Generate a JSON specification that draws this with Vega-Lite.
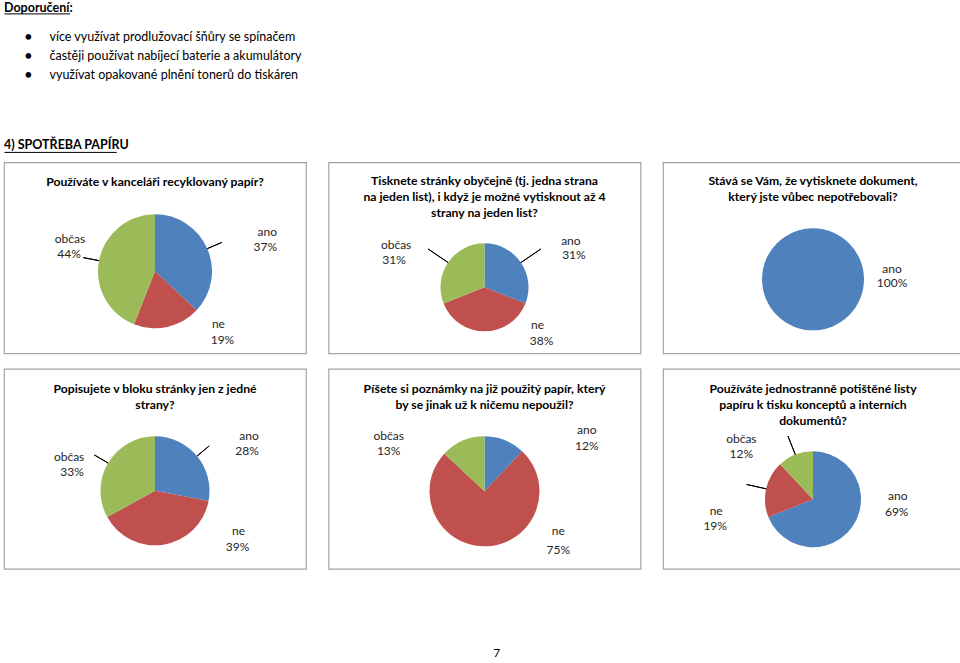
{
  "$schema": "https://vega.github.io/schema/vega-lite/v6.json",
  "background": "white",
  "padding": {"left": 3, "top": 2, "right": 0, "bottom": 0},
  "config": {
    "font": "Lato",
    "view": {"stroke": null},
    "title": {"font": "Lato", "fontSize": 12.2, "fontWeight": "bold", "color": "#000000", "lineHeight": 16, "anchor": "middle"},
    "text": {"font": "Lato", "fontSize": 12, "color": "#262626"},
    "arc": {"stroke": null}
  },
  "spacing": 9.3,
  "vconcat": [
    {
      "spacing": 53.3,
      "vconcat": [
        {
          "spacing": 12.7,
          "vconcat": [
            {
              "width": 65.6, "height": 10.4,
              "data": {"values": [{"heading": "Doporučení:"}]},
              "mark": {"type": "text", "align": "left", "baseline": "middle", "fontWeight": "bold", "fontSize": 12.5, "color": "#000000"},
              "encoding": {
                "text": {"field": "heading"},
                "x": {"field": "heading", "type": "nominal", "bandPosition": 0, "scale": {"type": "band", "paddingInner": 0, "paddingOuter": 0},
                      "axis": {"title": null, "labels": false, "ticks": false, "domain": true, "domainColor": "#000000", "domainWidth": 1, "grid": false}}
              }
            },
            {
              "spacing": 16.5,
              "hconcat": [
                {
                  "width": 28.8, "height": 56.25,
                  "data": {"values": [
                    {"item": "více využívat prodlužovací šňůry se spínačem"},
                    {"item": "častěji používat nabíjecí baterie a akumulátory"},
                    {"item": "využívat opakované plnění tonerů do tiskáren"}
                  ]},
                  "mark": {"type": "text", "align": "right", "baseline": "middle", "fontSize": 15, "color": "#000000"},
                  "encoding": {
                    "text": {"value": "•"},
                    "y": {"field": "item", "type": "nominal", "sort": null, "axis": null},
                    "x": {"datum": "bullet", "type": "nominal", "bandPosition": 1, "scale": {"type": "band", "paddingInner": 0, "paddingOuter": 0}, "axis": null}
                  }
                },
                {
                  "width": 260, "height": 56.25,
                  "data": {"values": [
                    {"item": "více využívat prodlužovací šňůry se spínačem"},
                    {"item": "častěji používat nabíjecí baterie a akumulátory"},
                    {"item": "využívat opakované plnění tonerů do tiskáren"}
                  ]},
                  "mark": {"type": "text", "align": "left", "baseline": "middle", "fontSize": 12.5, "color": "#000000"},
                  "encoding": {
                    "text": {"field": "item"},
                    "y": {"field": "item", "type": "nominal", "sort": null, "axis": null},
                    "x": {"datum": "text", "type": "nominal", "bandPosition": 0, "scale": {"type": "band", "paddingInner": 0, "paddingOuter": 0}, "axis": null}
                  }
                }
              ]
            }
          ]
        },
        {
          "width": 112.3, "height": 14.6,
          "data": {"values": [{"heading": "4) SPOTŘEBA PAPÍRU"}]},
          "mark": {"type": "text", "align": "left", "baseline": "middle", "fontWeight": "bold", "fontSize": 12.5, "color": "#000000"},
          "encoding": {
            "text": {"field": "heading"},
            "x": {"field": "heading", "type": "nominal", "bandPosition": 0, "scale": {"type": "band", "paddingInner": 0, "paddingOuter": 0},
                  "axis": {"title": null, "labels": false, "ticks": false, "domain": true, "domainColor": "#000000", "domainWidth": 1, "grid": false}}
          }
        }
      ]
    },
    {
      "spacing": 11.5,
      "vconcat": [
        {
          "spacing": 20.5,
          "hconcat": [
            {
              "width": 302, "height": 191,
              "view": {"stroke": "#a3a3a3", "strokeWidth": 1.2},
              "title": {"text": "Používáte v kanceláři recyklovaný papír?", "offset": -26},
              "data": {"values": [{"answer": "ano", "share": 0.37}, {"answer": "ne", "share": 0.19}, {"answer": "občas", "share": 0.44}]},
              "encoding": {"theta": {"field": "share", "type": "quantitative", "stack": true}, "order": {"field": "answer", "type": "ordinal"}},
              "layer": [
                {"mark": {"type": "arc", "outerRadius": 57, "yOffset": 13.5},
                 "encoding": {"color": {"field": "answer", "type": "nominal", "scale": {"domain": ["ano", "ne", "občas"], "range": ["#4f81bd", "#c0504d", "#9bbb59"]}, "legend": null}}},
                {"mark": {"type": "arc", "innerRadius": 57, "outerRadius": 73, "padAngle": 3.1416, "yOffset": 13.5, "filled": false, "stroke": "#000000", "strokeWidth": 1},
                 "encoding": {"detail": {"field": "answer", "type": "nominal"}, "strokeOpacity": {"condition": {"test": "datum.answer === 'ne'", "value": 0}, "value": 1}}},
                {"mark": {"type": "text", "radius": 57, "yOffset": 13.5, "dx": 60, "dy": -17},
                 "encoding": {"detail": {"field": "answer", "type": "nominal"}, "text": {"condition": {"test": "datum.answer === 'ano'", "field": "answer", "type": "nominal"}, "value": ""}}},
                {"mark": {"type": "text", "radius": 57, "yOffset": 13.5, "dx": 58, "dy": -2},
                 "encoding": {"detail": {"field": "answer", "type": "nominal"}, "text": {"condition": {"test": "datum.answer === 'ano'", "field": "share", "type": "quantitative", "format": ".0%"}, "value": ""}}},
                {"mark": {"type": "text", "radius": 57, "yOffset": 13.5, "dx": 51, "dy": -3},
                 "encoding": {"detail": {"field": "answer", "type": "nominal"}, "text": {"condition": {"test": "datum.answer === 'ne'", "field": "answer", "type": "nominal"}, "value": ""}}},
                {"mark": {"type": "text", "radius": 57, "yOffset": 13.5, "dx": 55, "dy": 13},
                 "encoding": {"detail": {"field": "answer", "type": "nominal"}, "text": {"condition": {"test": "datum.answer === 'ne'", "field": "share", "type": "quantitative", "format": ".0%"}, "value": ""}}},
                {"mark": {"type": "text", "radius": 57, "yOffset": 13.5, "dx": -29, "dy": -22},
                 "encoding": {"detail": {"field": "answer", "type": "nominal"}, "text": {"condition": {"test": "datum.answer === 'občas'", "field": "answer", "type": "nominal"}, "value": ""}}},
                {"mark": {"type": "text", "radius": 57, "yOffset": 13.5, "dx": -30, "dy": -7},
                 "encoding": {"detail": {"field": "answer", "type": "nominal"}, "text": {"condition": {"test": "datum.answer === 'občas'", "field": "share", "type": "quantitative", "format": ".0%"}, "value": ""}}}
              ]
            },
            {
              "width": 312, "height": 191,
              "view": {"stroke": "#a3a3a3", "strokeWidth": 1.2},
              "title": {"text": ["Tisknete stránky obyčejně (tj. jedna strana", "na jeden list), i když je možné vytisknout až 4", "strany na jeden list?"], "offset": -57},
              "data": {"values": [{"answer": "ano", "share": 0.31}, {"answer": "ne", "share": 0.38}, {"answer": "občas", "share": 0.31}]},
              "encoding": {"theta": {"field": "share", "type": "quantitative", "stack": true}, "order": {"field": "answer", "type": "ordinal"}},
              "layer": [
                {"mark": {"type": "arc", "outerRadius": 44, "yOffset": 29.5},
                 "encoding": {"color": {"field": "answer", "type": "nominal", "scale": {"domain": ["ano", "ne", "občas"], "range": ["#4f81bd", "#c0504d", "#9bbb59"]}, "legend": null}}},
                {"mark": {"type": "arc", "innerRadius": 44, "outerRadius": 68, "padAngle": 3.1416, "yOffset": 29.5, "filled": false, "stroke": "#000000", "strokeWidth": 1},
                 "encoding": {"detail": {"field": "answer", "type": "nominal"}, "strokeOpacity": {"condition": {"test": "datum.answer === 'ne'", "value": 0}, "value": 1}}},
                {"mark": {"type": "text", "radius": 44, "yOffset": 29.5, "dx": 50, "dy": -22},
                 "encoding": {"detail": {"field": "answer", "type": "nominal"}, "text": {"condition": {"test": "datum.answer === 'ano'", "field": "answer", "type": "nominal"}, "value": ""}}},
                {"mark": {"type": "text", "radius": 44, "yOffset": 29.5, "dx": 53, "dy": -8},
                 "encoding": {"detail": {"field": "answer", "type": "nominal"}, "text": {"condition": {"test": "datum.answer === 'ano'", "field": "share", "type": "quantitative", "format": ".0%"}, "value": ""}}},
                {"mark": {"type": "text", "radius": 44, "yOffset": 29.5, "dx": 53, "dy": -6},
                 "encoding": {"detail": {"field": "answer", "type": "nominal"}, "text": {"condition": {"test": "datum.answer === 'ne'", "field": "answer", "type": "nominal"}, "value": ""}}},
                {"mark": {"type": "text", "radius": 44, "yOffset": 29.5, "dx": 57, "dy": 10},
                 "encoding": {"detail": {"field": "answer", "type": "nominal"}, "text": {"condition": {"test": "datum.answer === 'ne'", "field": "share", "type": "quantitative", "format": ".0%"}, "value": ""}}},
                {"mark": {"type": "text", "radius": 44, "yOffset": 29.5, "dx": -52, "dy": -18},
                 "encoding": {"detail": {"field": "answer", "type": "nominal"}, "text": {"condition": {"test": "datum.answer === 'občas'", "field": "answer", "type": "nominal"}, "value": ""}}},
                {"mark": {"type": "text", "radius": 44, "yOffset": 29.5, "dx": -54, "dy": -3},
                 "encoding": {"detail": {"field": "answer", "type": "nominal"}, "text": {"condition": {"test": "datum.answer === 'občas'", "field": "share", "type": "quantitative", "format": ".0%"}, "value": ""}}}
              ]
            },
            {
              "width": 300, "height": 191,
              "view": {"stroke": "#a3a3a3", "strokeWidth": 1.2},
              "title": {"text": ["Stává se Vám, že vytisknete dokument,", "který jste vůbec nepotřebovali?"], "offset": -41},
              "data": {"values": [{"answer": "ano", "share": 1.0}]},
              "encoding": {"theta": {"field": "share", "type": "quantitative", "stack": true}, "order": {"field": "answer", "type": "ordinal"}},
              "layer": [
                {"mark": {"type": "arc", "outerRadius": 51, "yOffset": 21.5},
                 "encoding": {"color": {"field": "answer", "type": "nominal", "scale": {"domain": ["ano", "ne", "občas"], "range": ["#4f81bd", "#c0504d", "#9bbb59"]}, "legend": null}}},
                {"mark": {"type": "text", "radius": 51, "yOffset": 21.5, "dx": 79, "dy": -61},
                 "encoding": {"detail": {"field": "answer", "type": "nominal"}, "text": {"field": "answer", "type": "nominal"}}},
                {"mark": {"type": "text", "radius": 51, "yOffset": 21.5, "dx": 79, "dy": -47},
                 "encoding": {"detail": {"field": "answer", "type": "nominal"}, "text": {"field": "share", "type": "quantitative", "format": ".0%"}}}
              ]
            }
          ]
        },
        {
          "spacing": 76.5,
          "vconcat": [
            {
              "spacing": 20.5,
              "hconcat": [
                {
                  "width": 302, "height": 200,
                  "view": {"stroke": "#a3a3a3", "strokeWidth": 1.2},
                  "title": {"text": ["Popisujete v bloku stránky jen z jedné", "strany?"], "offset": -42},
                  "data": {"values": [{"answer": "ano", "share": 0.28}, {"answer": "ne", "share": 0.39}, {"answer": "občas", "share": 0.33}]},
                  "encoding": {"theta": {"field": "share", "type": "quantitative", "stack": true}, "order": {"field": "answer", "type": "ordinal"}},
                  "layer": [
                    {"mark": {"type": "arc", "outerRadius": 54.5, "yOffset": 22},
                     "encoding": {"color": {"field": "answer", "type": "nominal", "scale": {"domain": ["ano", "ne", "občas"], "range": ["#4f81bd", "#c0504d", "#9bbb59"]}, "legend": null}}},
                    {"mark": {"type": "arc", "innerRadius": 54.5, "outerRadius": 70.5, "padAngle": 3.1416, "yOffset": 22, "filled": false, "stroke": "#000000", "strokeWidth": 1},
                     "encoding": {"detail": {"field": "answer", "type": "nominal"}, "strokeOpacity": {"condition": {"test": "datum.answer === 'ne'", "value": 0}, "value": 1}}},
                    {"mark": {"type": "text", "radius": 54.5, "yOffset": 22, "dx": 52, "dy": -20},
                     "encoding": {"detail": {"field": "answer", "type": "nominal"}, "text": {"condition": {"test": "datum.answer === 'ano'", "field": "answer", "type": "nominal"}, "value": ""}}},
                    {"mark": {"type": "text", "radius": 54.5, "yOffset": 22, "dx": 50, "dy": -5},
                     "encoding": {"detail": {"field": "answer", "type": "nominal"}, "text": {"condition": {"test": "datum.answer === 'ano'", "field": "share", "type": "quantitative", "format": ".0%"}, "value": ""}}},
                    {"mark": {"type": "text", "radius": 54.5, "yOffset": 22, "dx": 75, "dy": -14},
                     "encoding": {"detail": {"field": "answer", "type": "nominal"}, "text": {"condition": {"test": "datum.answer === 'ne'", "field": "answer", "type": "nominal"}, "value": ""}}},
                    {"mark": {"type": "text", "radius": 54.5, "yOffset": 22, "dx": 74, "dy": 2},
                     "encoding": {"detail": {"field": "answer", "type": "nominal"}, "text": {"condition": {"test": "datum.answer === 'ne'", "field": "share", "type": "quantitative", "format": ".0%"}, "value": ""}}},
                    {"mark": {"type": "text", "radius": 54.5, "yOffset": 22, "dx": -39, "dy": -6},
                     "encoding": {"detail": {"field": "answer", "type": "nominal"}, "text": {"condition": {"test": "datum.answer === 'občas'", "field": "answer", "type": "nominal"}, "value": ""}}},
                    {"mark": {"type": "text", "radius": 54.5, "yOffset": 22, "dx": -36, "dy": 9},
                     "encoding": {"detail": {"field": "answer", "type": "nominal"}, "text": {"condition": {"test": "datum.answer === 'občas'", "field": "share", "type": "quantitative", "format": ".0%"}, "value": ""}}}
                  ]
                },
                {
                  "width": 312, "height": 200,
                  "view": {"stroke": "#a3a3a3", "strokeWidth": 1.2},
                  "title": {"text": ["Píšete si poznámky na již použitý papír, který", "by se jinak už k ničemu nepoužil?"], "offset": -42},
                  "data": {"values": [{"answer": "ano", "share": 0.12}, {"answer": "ne", "share": 0.75}, {"answer": "občas", "share": 0.13}]},
                  "encoding": {"theta": {"field": "share", "type": "quantitative", "stack": true}, "order": {"field": "answer", "type": "ordinal"}},
                  "layer": [
                    {"mark": {"type": "arc", "outerRadius": 55, "yOffset": 22.5},
                     "encoding": {"color": {"field": "answer", "type": "nominal", "scale": {"domain": ["ano", "ne", "občas"], "range": ["#4f81bd", "#c0504d", "#9bbb59"]}, "legend": null}}},
                    {"mark": {"type": "text", "radius": 55, "yOffset": 22.5, "dx": 82, "dy": -10},
                     "encoding": {"detail": {"field": "answer", "type": "nominal"}, "text": {"condition": {"test": "datum.answer === 'ano'", "field": "answer", "type": "nominal"}, "value": ""}}},
                    {"mark": {"type": "text", "radius": 55, "yOffset": 22.5, "dx": 82, "dy": 6},
                     "encoding": {"detail": {"field": "answer", "type": "nominal"}, "text": {"condition": {"test": "datum.answer === 'ano'", "field": "share", "type": "quantitative", "format": ".0%"}, "value": ""}}},
                    {"mark": {"type": "text", "radius": 55, "yOffset": 22.5, "dx": 72, "dy": -15},
                     "encoding": {"detail": {"field": "answer", "type": "nominal"}, "text": {"condition": {"test": "datum.answer === 'ne'", "field": "answer", "type": "nominal"}, "value": ""}}},
                    {"mark": {"type": "text", "radius": 55, "yOffset": 22.5, "dx": 72, "dy": 4},
                     "encoding": {"detail": {"field": "answer", "type": "nominal"}, "text": {"condition": {"test": "datum.answer === 'ne'", "field": "share", "type": "quantitative", "format": ".0%"}, "value": ""}}},
                    {"mark": {"type": "text", "radius": 55, "yOffset": 22.5, "dx": -74, "dy": -4.5},
                     "encoding": {"detail": {"field": "answer", "type": "nominal"}, "text": {"condition": {"test": "datum.answer === 'občas'", "field": "answer", "type": "nominal"}, "value": ""}}},
                    {"mark": {"type": "text", "radius": 55, "yOffset": 22.5, "dx": -74, "dy": 10.5},
                     "encoding": {"detail": {"field": "answer", "type": "nominal"}, "text": {"condition": {"test": "datum.answer === 'občas'", "field": "share", "type": "quantitative", "format": ".0%"}, "value": ""}}}
                  ]
                },
                {
                  "width": 300, "height": 200,
                  "view": {"stroke": "#a3a3a3", "strokeWidth": 1.2},
                  "title": {"text": ["Používáte jednostranně potištěné listy", "papíru k tisku konceptů a interních", "dokumentů?"], "offset": -58},
                  "data": {"values": [{"answer": "ano", "share": 0.69}, {"answer": "ne", "share": 0.19}, {"answer": "občas", "share": 0.12}]},
                  "encoding": {"theta": {"field": "share", "type": "quantitative", "stack": true}, "order": {"field": "answer", "type": "ordinal"}},
                  "layer": [
                    {"mark": {"type": "arc", "outerRadius": 48, "yOffset": 30.5},
                     "encoding": {"color": {"field": "answer", "type": "nominal", "scale": {"domain": ["ano", "ne", "občas"], "range": ["#4f81bd", "#c0504d", "#9bbb59"]}, "legend": null}}},
                    {"mark": {"type": "arc", "innerRadius": 48, "outerRadius": 68, "padAngle": 3.1416, "yOffset": 30.5, "filled": false, "stroke": "#000000", "strokeWidth": 1},
                     "encoding": {"detail": {"field": "answer", "type": "nominal"}, "strokeOpacity": {"condition": {"test": "datum.answer === 'ano'", "value": 0}, "value": 1}}},
                    {"mark": {"type": "text", "radius": 48, "yOffset": 30.5, "dx": 45, "dy": -30},
                     "encoding": {"detail": {"field": "answer", "type": "nominal"}, "text": {"condition": {"test": "datum.answer === 'ano'", "field": "answer", "type": "nominal"}, "value": ""}}},
                    {"mark": {"type": "text", "radius": 48, "yOffset": 30.5, "dx": 44, "dy": -14},
                     "encoding": {"detail": {"field": "answer", "type": "nominal"}, "text": {"condition": {"test": "datum.answer === 'ano'", "field": "share", "type": "quantitative", "format": ".0%"}, "value": ""}}},
                    {"mark": {"type": "text", "radius": 48, "yOffset": 30.5, "dx": -50, "dy": 22},
                     "encoding": {"detail": {"field": "answer", "type": "nominal"}, "text": {"condition": {"test": "datum.answer === 'ne'", "field": "answer", "type": "nominal"}, "value": ""}}},
                    {"mark": {"type": "text", "radius": 48, "yOffset": 30.5, "dx": -51, "dy": 37},
                     "encoding": {"detail": {"field": "answer", "type": "nominal"}, "text": {"condition": {"test": "datum.answer === 'ne'", "field": "share", "type": "quantitative", "format": ".0%"}, "value": ""}}},
                    {"mark": {"type": "text", "radius": 48, "yOffset": 30.5, "dx": -54, "dy": -16},
                     "encoding": {"detail": {"field": "answer", "type": "nominal"}, "text": {"condition": {"test": "datum.answer === 'občas'", "field": "answer", "type": "nominal"}, "value": ""}}},
                    {"mark": {"type": "text", "radius": 48, "yOffset": 30.5, "dx": -54, "dy": -1},
                     "encoding": {"detail": {"field": "answer", "type": "nominal"}, "text": {"condition": {"test": "datum.answer === 'občas'", "field": "share", "type": "quantitative", "format": ".0%"}, "value": ""}}}
                  ]
                }
              ]
            },
            {
              "width": 955, "height": 12,
              "data": {"values": [{"page": "7"}]},
              "mark": {"type": "text", "align": "center", "baseline": "middle", "fontSize": 12, "color": "#000000"},
              "encoding": {
                "text": {"field": "page"},
                "x": {"field": "page", "type": "nominal", "bandPosition": 0.516, "scale": {"type": "band", "paddingInner": 0, "paddingOuter": 0}, "axis": null}
              }
            }
          ]
        }
      ]
    }
  ]
}
